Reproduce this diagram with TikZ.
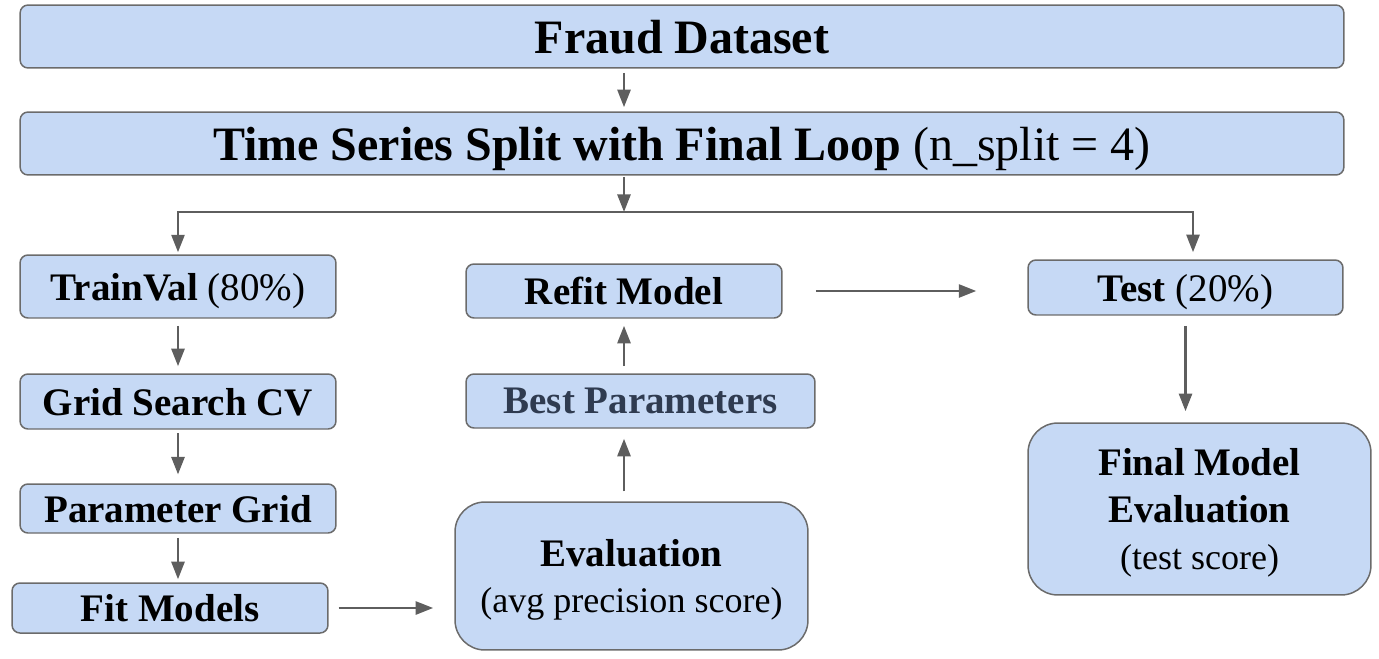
\documentclass[tikz,border=0pt]{standalone}
\usepackage{fontspec}
\setmainfont{Liberation Serif}
\usetikzlibrary{arrows.meta, positioning, calc}
\definecolor{boxblue}{HTML}{C6D9F5}
\definecolor{boxgray}{HTML}{6B6B6B}
\definecolor{arrowgray}{HTML}{5E5E5E}
\definecolor{paramslate}{HTML}{2F3B50}
\newcommand{\titlesize}{\fontsize{27.3}{30}\selectfont}
\newcommand{\boxsize}{\fontsize{22.2}{26.7}\selectfont}
\newcommand{\notesize}{\fontsize{20.5}{26.7}\selectfont}

\begin{document}
\begin{tikzpicture}[
    x=0.02cm, y=-0.02cm,
    stage/.style={draw=boxgray, line width=0.85pt, fill=boxblue, rounded corners=4.5pt, inner sep=0pt, text depth=0pt, align=center, font=\boxsize\bfseries},
    bigstage/.style={stage, rounded corners=17pt},
    arrow/.style={-{Triangle[length=10pt, width=7.4pt]}, line width=1.5pt, draw=arrowgray},
]
    \useasboundingbox (0, 0) rectangle (1379, 659);

    % Dataset and split
    \node[stage, font=\titlesize\bfseries, minimum width=26.48cm, minimum height=1.26cm] (data) at (682, 36.5) {Fraud Dataset};
    \node[stage, font=\titlesize\bfseries, minimum width=26.48cm, minimum height=1.26cm] (split) at (682, 143.5) {Time Series Split with Final Loop {\mdseries (n\_split = 4)}};

    % Training column
    \node[stage, minimum width=6.32cm, minimum height=1.26cm] (trainval) at (178, 286.5) {TrainVal {\mdseries (80\%)}};
    \node[stage, minimum width=6.32cm, minimum height=1.1cm] (grid) at (178, 401.5) {Grid Search CV};
    \node[stage, minimum width=6.32cm, minimum height=0.98cm] (paramgrid) at (178, 508.5) {Parameter Grid};
    \node[stage, minimum width=6.32cm, minimum height=1cm] (fit) at (170, 608) {Fit Models};

    % Model selection column
    \node[bigstage, minimum width=7.06cm, minimum height=2.96cm] (eval) at (631.5, 576) {Evaluation\\{\notesize\mdseries (avg precision score)}};
    \node[stage, text=paramslate, minimum width=6.98cm, minimum height=1.08cm] (best) at (640.5, 401) {Best Parameters};
    \node[stage, minimum width=6.32cm, minimum height=1.08cm] (refit) at (624, 291) {Refit Model};

    % Test column
    \node[stage, minimum width=6.3cm, minimum height=1.1cm] (test) at (1185.5, 287.5) {Test {\mdseries (20\%)}};
    \node[bigstage, minimum width=6.86cm, minimum height=3.44cm] (final) at (1199.5, 509) {Final Model\\Evaluation\\{\notesize\mdseries (test score)}};

    % Fork below the split
    \coordinate (fork) at (624, 212);
    \coordinate (forkright) at (1193, 212);
    \draw[arrow, shorten <=2.3pt, shorten >=2.3pt] (data.south -| fork) -- (split.north -| fork);
    \draw[arrow, shorten <=0.6pt] (split.south -| fork) -- (fork);
    \draw[arrow, shorten >=1.1pt] (fork) -| (trainval.north);
    \draw[arrow, shorten >=4pt] (fork) -- (forkright) -- (forkright |- test.north);

    % Training flow
    \draw[arrow, shorten <=4pt, shorten >=4pt] (trainval) -- (grid);
    \draw[arrow, shorten <=2pt, shorten >=5pt] (grid) -- (paramgrid);
    \draw[arrow, shorten <=2.3pt, shorten >=1.7pt] (paramgrid.south) -- (paramgrid.south |- fit.north);
    \draw[arrow, shorten <=5.7pt, shorten >=12pt] (fit.east) -- (fit.east -| eval.west);

    % Selection flow
    \draw[arrow, shorten <=5.7pt, shorten >=5.7pt] (eval.north -| refit) -- (best.south -| refit);
    \draw[arrow, shorten <=4pt, shorten >=4pt] (best.north -| refit) -- (refit);
    \draw[arrow, shorten <=18.8pt, shorten >=29pt] (refit.east) -- (refit.east -| test.west);
    \draw[arrow, shorten <=5.7pt, shorten >=6.3pt] (test.south) -- (test.south |- final.north);

\end{tikzpicture}
\end{document}
